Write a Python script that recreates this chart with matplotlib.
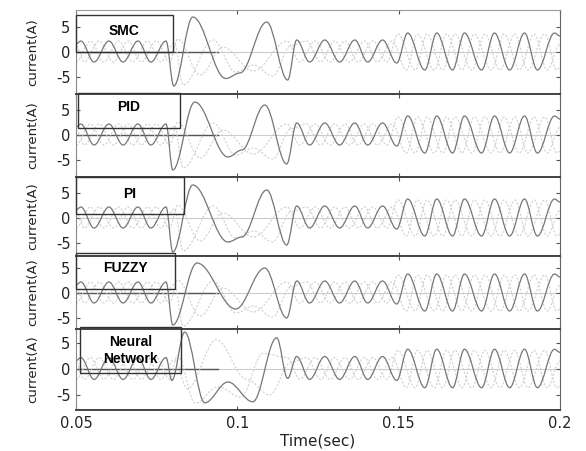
import matplotlib
matplotlib.use('Agg')
import matplotlib.pyplot as plt
from matplotlib.path import Path
from matplotlib.patches import PathPatch, Rectangle

controllers = ['SMC', 'PID', 'PI', 'FUZZY', 'Neural\nNetwork']

# extrema of the three phase currents (time in s, current in A)
# before the step, same in every panel
pre_t_a = [0.0500, 0.0515, 0.0556, 0.0602, 0.0646, 0.0692, 0.0732, 0.0779]
pre_i_a = [1.6, 2.2, -2.0, 2.2, -2.0, 2.2, -2.0, 2.2]
pre_t_b = [0.0500, 0.0545, 0.0586, 0.0632, 0.0676, 0.0722, 0.0762]
pre_i_b = [-2.0, 2.2, -2.0, 2.2, -2.0, 2.2, -2.0]
pre_t_c = [0.0500, 0.0526, 0.0572, 0.0616, 0.0662, 0.0702, 0.0749, 0.0790]
pre_i_c = [1.2, -2.0, 2.2, -2.0, 2.2, -2.0, 2.2, -2.0]

# transient, one list per panel (SMC, PID, PI, FUZZY, NN)
trans_t_a = [[0.0803, 0.0862, 0.0964, 0.1008, 0.1091, 0.1156],
             [0.0800, 0.0868, 0.0971, 0.1014, 0.1085, 0.1153],
             [0.0800, 0.0862, 0.0971, 0.1014, 0.1091, 0.1153],
             [0.0800, 0.0875, 0.0995, 0.1085, 0.1153],
             [0.0797, 0.0837, 0.0899, 0.0971, 0.1048, 0.1122, 0.1156]]
trans_i_a = [[-6.8, 7.0, -5.3, -4.2, 6.0, -5.6],
             [-7.0, 6.6, -4.4, -3.0, 6.0, -5.8],
             [-6.8, 6.6, -4.8, -3.8, 5.6, -5.4],
             [-6.4, 6.0, -3.2, 5.0, -5.0],
             [-2.2, 7.1, -6.5, -2.5, -6.3, 6.0, -1.8]]

trans_t_b = [[0.0805, 0.0832, 0.0925, 0.0995, 0.1050, 0.1110, 0.1165]] * 4 + \
            [[0.0805, 0.0845, 0.0935, 0.1030, 0.1100, 0.1165]]
trans_i_b = [[1.8, -6.6, 2.4, -4.0, -2.6, -4.8, 1.2]] * 4 + \
            [[1.8, -3.8, 5.6, -2.0, -5.0, 1.2]]
trans_t_c = [[0.0815, 0.0885, 0.0955, 0.1050, 0.1154]] * 4 + \
            [[0.0815, 0.0870, 0.0940, 0.1010, 0.1080, 0.1154]]
trans_i_c = [[2.6, -4.6, 1.0, -3.8, 2.2]] * 4 + \
            [[2.6, -6.6, -3.4, -5.4, 3.0, 2.2]]

# after the transient, same in every panel
post_t_a = [0.1184, 0.1224, 0.1271, 0.1317, 0.1364, 0.1404, 0.1450, 0.1494, 0.1528, 0.1581,
            0.1618, 0.1667, 0.1704, 0.1757, 0.1797, 0.1844, 0.1890, 0.1930, 0.1983, 0.2000]
post_i_a = [2.4, -2.0, 2.4, -2.0, 2.4, -2.0, 2.4, -2.2, 3.8, -3.6,
            3.8, -3.6, 3.8, -3.6, 3.8, -3.6, 3.8, -3.6, 3.8, 3.2]
post_t_b = [0.1214, 0.1258, 0.1301, 0.1347, 0.1394, 0.1434, 0.1480, 0.1524, 0.1558, 0.1611,
            0.1648, 0.1697, 0.1734, 0.1787, 0.1827, 0.1874, 0.1920, 0.1960, 0.2000]
post_i_b = [2.2, -2.0, 2.2, -2.0, 2.2, -2.0, 2.2, -3.6, 3.6, -3.6,
            3.6, -3.6, 3.6, -3.6, 3.6, -3.6, 3.6, -3.6, 1.5]
post_t_c = [0.1194, 0.1241, 0.1287, 0.1334, 0.1374, 0.1420, 0.1464, 0.1498, 0.1551, 0.1588,
            0.1637, 0.1674, 0.1727, 0.1767, 0.1814, 0.1860, 0.1900, 0.1953, 0.1990, 0.2000]
post_i_c = [-2.0, 2.2, -2.0, 2.2, -2.0, 2.2, -2.0, 3.6, -3.6, 3.6,
            -3.6, 3.6, -3.6, 3.6, -3.6, 3.6, -3.6, 3.6, -3.6, -3.2]

x_ticks = [0.05, 0.1, 0.15, 0.2]
x_ticklabels = ['0.05', '0.1', '0.15', '0.2']
y_ticks = [-5, 0, 5]


def smooth_path(ts, vals, k=0.36):
    # cubic bezier between successive extrema, flat at each extremum
    verts = [(ts[0], vals[0])]
    codes = [Path.MOVETO]
    for t0, v0, t1, v1 in zip(ts[:-1], vals[:-1], ts[1:], vals[1:]):
        dt = t1 - t0
        verts += [(t0 + k * dt, v0), (t1 - k * dt, v1), (t1, v1)]
        codes += [Path.CURVE4] * 3
    return Path(verts, codes)


W, H = 586, 451
left_px, right_px = 76, 560
# top, bottom, zero line (pixels) and pixels per ampere for each panel
panels_px = [(10, 94, 52, 5.0), (94, 177, 135, 5.0), (177, 256, 218, 5.0),
             (256, 329, 293, 5.0), (329, 410, 369, 5.2)]
# label boxes: t0, t1, bottom, top, text y
boxes = [(0.0500, 0.0800, 0.0, 7.4, 4.2), (0.0506, 0.0822, 1.4, 8.4, 5.6),
         (0.0500, 0.0834, 0.8, 8.2, 4.8), (0.0500, 0.0807, 0.8, 8.0, 5.0),
         (0.0512, 0.0825, -0.8, 8.1, 3.5)]

plt.rcParams['font.family'] = 'DejaVu Sans'
fig = plt.figure(figsize=(W / 100, H / 100), dpi=100)

for n, name in enumerate(controllers):
    top, bot, y0, s = panels_px[n]
    ax = fig.add_axes([left_px / W, 1 - bot / H, (right_px - left_px) / W, (bot - top) / H])
    ax.set_xlim(0.05, 0.2)
    ax.set_ylim(-(bot - y0) / s, (y0 - top) / s)

    ax.axhline(0, color='#cccccc', lw=0.8, zorder=1)
    if n != 2:
        ax.plot([0.05, 0.094], [0, 0], color='#555555', lw=1.0, zorder=1)

    ta = pre_t_a + trans_t_a[n] + post_t_a
    ia = pre_i_a + trans_i_a[n] + post_i_a
    tb = pre_t_b + trans_t_b[n] + post_t_b
    ib = pre_i_b + trans_i_b[n] + post_i_b
    tc = pre_t_c + trans_t_c[n] + post_t_c
    ic = pre_i_c + trans_i_c[n] + post_i_c
    for t, v, col, ls, lw in [(tb, ib, '#d0d0d0', (0, (2, 1.5)), 0.8),
                              (tc, ic, '#d0d0d0', (0, (2, 1.5)), 0.8),
                              (ta, ia, '#767676', '-', 0.9)]:
        ax.add_patch(PathPatch(smooth_path(t, v), fill=False, edgecolor=col,
                               lw=lw, linestyle=ls, zorder=2))

    t0, t1, b0, b1, ty = boxes[n]
    ax.add_patch(Rectangle((t0, b0), t1 - t0, b1 - b0, fill=False, edgecolor='#333333',
                           lw=1.0, zorder=3, clip_on=False))
    ax.text((t0 + t1) / 2, ty, name, ha='center', va='center', fontsize=10,
            fontweight='bold', family='Liberation Sans', linespacing=1.25, zorder=4)

    ax.set_xticks(x_ticks)
    ax.set_yticks(y_ticks)
    ax.set_yticklabels(['-5', '0', '5'])
    ax.tick_params(direction='in', length=3, top=True, right=True, labelsize=10.5,
                   labelcolor='#222222', color='#555555', pad=4)
    if n < 4:
        ax.set_xticklabels([])
    else:
        ax.set_xticklabels(x_ticklabels)
        ax.set_xlabel('Time(sec)', fontsize=11, color='#222222', labelpad=2)
    ax.set_ylabel('current(A)', fontsize=9.5, color='#222222', labelpad=12)
    for side in ['top', 'bottom']:
        ax.spines[side].set_color('#444444')
        ax.spines[side].set_linewidth(1.4)
    if n == 0:
        ax.spines['top'].set_color('#999999')
        ax.spines['top'].set_linewidth(0.8)
    ax.spines['left'].set_color('#888888')
    ax.spines['right'].set_color('#666666')
    for side in ['left', 'right']:
        ax.spines[side].set_linewidth(0.8)

fig.savefig('out.png', dpi=100)
